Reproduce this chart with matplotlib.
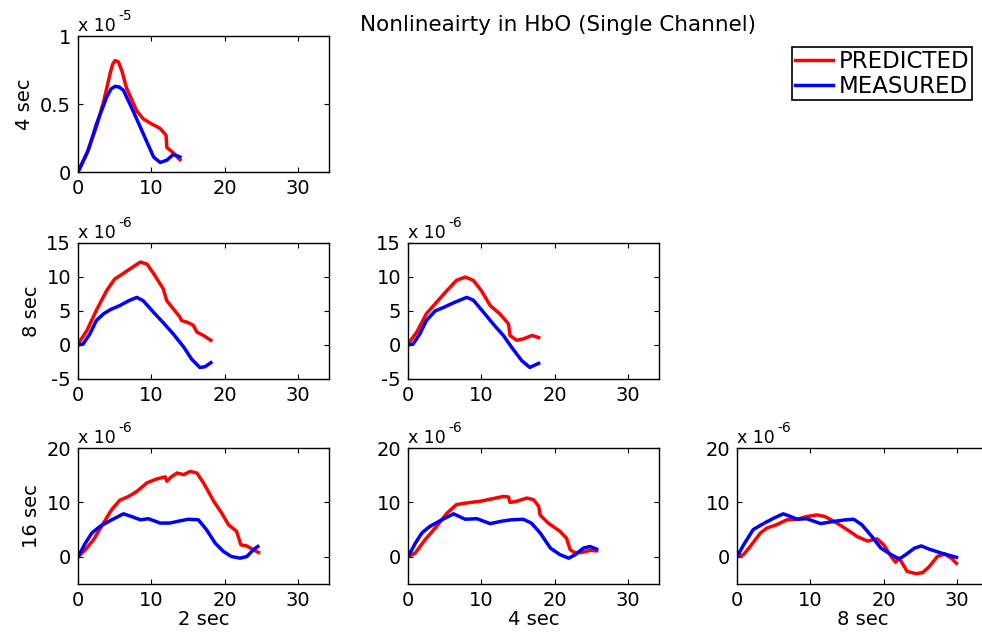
import numpy as np
import matplotlib
matplotlib.use('Agg')
import matplotlib.pyplot as plt

plt.rcParams['font.family'] = ['DejaVu Sans']
plt.rcParams['font.size'] = 14

# ---- HbO responses (time in s, amplitude scaled by the axis exponent) ----
# row 1: 4 sec stimulus, 2 sec reference
t_4_2_pred = [0, 1.2, 2.5, 3.5, 4.4, 4.7, 5.05, 5.5, 6.0, 6.6, 8.0, 8.9, 10.0, 11.2, 12.0, 12.1, 12.8, 13.9]
y_4_2_pred = [0, 0.136, 0.33, 0.52, 0.73, 0.79, 0.82, 0.81, 0.74, 0.62, 0.45, 0.39, 0.355, 0.32, 0.27, 0.18, 0.15, 0.09]
t_4_2_meas = [0, 1.4, 2.5, 3.9, 4.5, 5.05, 5.6, 6.2, 7.5, 8.9, 10.3, 11.2, 12.1, 13.0, 13.9]
y_4_2_meas = [0, 0.16, 0.35, 0.55, 0.61, 0.63, 0.625, 0.60, 0.45, 0.28, 0.11, 0.07, 0.087, 0.13, 0.11]

# row 2: 8 sec stimulus, 2 sec and 4 sec references
t_8_2_pred = [0, 1.2, 2.5, 3.9, 5.0, 6.0, 7.1, 8.5, 9.4, 10.3, 11.6, 12.1, 13.0, 13.9, 14.1, 15.0, 15.7, 16.2, 17.1, 18.1]
y_8_2_pred = [0.15, 2.1, 5.1, 8.0, 9.7, 10.4, 11.2, 12.2, 11.9, 10.5, 8.3, 6.5, 5.3, 4.1, 3.6, 3.3, 2.9, 1.9, 1.4, 0.7]
t_8_2_meas = [0, 0.7, 1.6, 2.5, 3.5, 4.4, 5.7, 6.9, 8.0, 8.9, 10.3, 11.6, 13.0, 14.4, 15.5, 16.6, 17.3, 18.1]
y_8_2_meas = [0, 0.15, 1.6, 3.6, 4.6, 5.2, 5.8, 6.5, 7.0, 6.5, 4.8, 3.3, 1.6, -0.3, -2.1, -3.3, -3.2, -2.6]

t_8_4_pred = [0, 1.2, 2.5, 3.9, 5.3, 6.6, 7.8, 8.9, 10.0, 11.2, 12.5, 13.7, 13.9, 14.8, 15.7, 16.9, 17.8]
y_8_4_pred = [0.15, 1.9, 4.6, 6.3, 8.0, 9.5, 10.0, 9.5, 8.0, 5.8, 4.6, 3.1, 1.4, 0.7, 0.9, 1.4, 1.1]
t_8_4_meas = [0, 0.7, 1.6, 2.5, 3.7, 5.0, 6.4, 8.0, 8.9, 10.3, 11.6, 13.0, 14.1, 15.5, 16.6, 17.8]
y_8_4_meas = [0, 0.15, 1.6, 3.6, 5.0, 5.6, 6.3, 7.0, 6.6, 4.8, 3.1, 1.4, -0.3, -2.3, -3.3, -2.7]

# row 3: 16 sec stimulus, 2 / 4 / 8 sec references
t_16_2_pred = [0, 1.0, 2.1, 3.2, 4.6, 5.7, 6.9, 8.0, 9.4, 10.7, 11.9, 12.1, 12.8, 13.5, 14.4, 15.3, 16.2,
               17.1, 18.5, 19.6, 20.5, 21.6, 22.2, 23.0, 23.9, 24.6]
y_16_2_pred = [0, 1.3, 3.1, 5.6, 8.7, 10.4, 11.1, 12.0, 13.6, 14.3, 14.7, 13.9, 14.8, 15.4, 15.1, 15.7, 15.4,
               13.6, 10.2, 8.0, 5.9, 4.7, 2.2, 2.0, 1.3, 0.8]
t_16_2_meas = [0, 1.0, 1.9, 3.0, 4.6, 6.2, 7.3, 8.5, 9.6, 11.2, 12.5, 13.9, 15.0, 16.4, 17.5, 18.7, 19.8,
               20.9, 22.1, 23.0, 23.9, 24.5]
y_16_2_meas = [0, 2.5, 4.4, 5.6, 6.8, 7.9, 7.4, 6.8, 7.0, 6.2, 6.2, 6.6, 6.9, 6.8, 5.0, 2.5, 1.0,
               0.05, -0.25, 0.05, 1.3, 1.9]

t_16_4_pred = [0, 1.0, 2.3, 3.9, 5.3, 6.6, 8.0, 9.8, 11.6, 13.0, 13.7, 13.9, 14.8, 16.2, 17.1, 17.8, 18.0,
               19.1, 20.7, 21.6, 22.1, 22.8, 23.7, 24.8, 25.7]
y_16_4_pred = [0, 0.7, 3.1, 5.6, 8.0, 9.6, 9.9, 10.2, 10.7, 11.1, 11.0, 10.0, 10.2, 10.8, 10.5, 9.3, 7.7,
               6.2, 4.7, 3.4, 1.3, 0.7, 0.8, 1.2, 1.1]
t_16_4_meas = [0, 1.0, 1.9, 3.0, 4.6, 6.2, 7.8, 9.4, 11.2, 13.0, 14.1, 15.7, 16.8, 18.0, 19.4, 20.7, 21.9,
               22.8, 23.9, 24.8, 25.7]
y_16_4_meas = [0, 2.5, 4.4, 5.6, 6.8, 7.9, 6.9, 7.0, 6.1, 6.6, 6.8, 6.9, 6.2, 4.4, 1.6, 0.4, -0.25,
               0.4, 1.6, 1.9, 1.4]

t_16_8_pred = [0, 0.9, 1.8, 3.2, 4.1, 5.4, 6.8, 8.2, 9.5, 10.9, 12.0, 13.6, 15.0, 16.4, 17.8, 19.1, 20.0,
               21.0, 21.6, 22.1, 23.2, 24.4, 25.3, 26.2, 27.3, 28.3, 29.2, 29.9]
y_16_8_pred = [0, 0.4, 1.9, 4.4, 5.3, 5.9, 6.8, 6.9, 7.4, 7.7, 7.4, 6.2, 5.0, 3.7, 2.9, 3.3, 2.2,
               0.06, -1.0, -0.25, -2.7, -3.1, -2.9, -1.8, 0.06, 0.5, -0.25, -1.2]
t_16_8_meas = [0, 0.9, 2.2, 3.6, 5.0, 6.3, 7.3, 8.2, 9.5, 11.4, 13.2, 14.8, 15.9, 17.0, 18.4, 19.6, 21.0,
               22.1, 23.0, 24.2, 25.1, 26.2, 27.8, 29.9]
y_16_8_meas = [0, 2.2, 5.0, 6.1, 7.1, 7.9, 7.4, 6.9, 7.0, 6.1, 6.5, 6.8, 6.9, 5.9, 3.7, 1.6, 0.4,
               -0.4, 0.4, 1.6, 2.0, 1.4, 0.7, -0.1]

row_labels = ['4 sec', '8 sec', '16 sec']
col_labels = ['2 sec', '4 sec', '8 sec']
exponents = ['-5', '-6', '-6']
ylims = [(0, 1), (-5, 15), (-5, 20)]
yticks = [[0, 0.5, 1], [-5, 0, 5, 10, 15], [0, 10, 20]]
yticklabels = [['0', '0.5', '1'], ['-5', '0', '5', '10', '15'], ['0', '10', '20']]
xticks = [0, 10, 20, 30]

panels = {
    (0, 0): (t_4_2_pred, y_4_2_pred, t_4_2_meas, y_4_2_meas),
    (1, 0): (t_8_2_pred, y_8_2_pred, t_8_2_meas, y_8_2_meas),
    (1, 1): (t_8_4_pred, y_8_4_pred, t_8_4_meas, y_8_4_meas),
    (2, 0): (t_16_2_pred, y_16_2_pred, t_16_2_meas, y_16_2_meas),
    (2, 1): (t_16_4_pred, y_16_4_pred, t_16_4_meas, y_16_4_meas),
    (2, 2): (t_16_8_pred, y_16_8_pred, t_16_8_meas, y_16_8_meas),
}

W, H = 982, 635
fig = plt.figure(figsize=(W / 100, H / 100), dpi=100)

col_x = [78, 408, 737]
row_top = [36, 243, 448]
ax_w, ax_h = 251, 136

first_ax = None
for (r, c), (tp, yp, tm, ym) in panels.items():
    x0 = col_x[c] / W
    y0 = 1 - (row_top[r] + ax_h) / H
    ax = fig.add_axes([x0, y0, ax_w / W, ax_h / H])
    ax.plot(tp, yp, color='red', lw=2.5, label='PREDICTED')
    ax.plot(tm, ym, color='blue', lw=2.5, label='MEASURED')
    ax.set_xlim(0, 34.2)
    ax.set_ylim(*ylims[r])
    ax.set_xticks(xticks)
    ax.set_yticks(yticks[r])
    ax.set_yticklabels(yticklabels[r])
    ax.tick_params(direction='in', length=3.5, width=0.8, top=True, right=True, pad=5)
    for s in ax.spines.values():
        s.set_linewidth(1.0)
    # matlab style exponent above the y axis
    ax.annotate('x 10', xy=(0, 1), xycoords='axes fraction', xytext=(0, 3.5),
                textcoords='offset points', ha='left', va='baseline', fontsize=12.5)
    ax.annotate(exponents[r], xy=(0, 1), xycoords='axes fraction', xytext=(29, 11.5),
                textcoords='offset points', ha='left', va='baseline', fontsize=10)
    if c == 0:
        ax.set_ylabel(row_labels[r], labelpad=4)
    if r == 2:
        ax.set_xlabel(col_labels[c], labelpad=0)
    if first_ax is None:
        first_ax = ax

fig.text(558 / W, 1 - 25 / H, 'Nonlineairty in HbO (Single Channel)', ha='center', va='center',
         fontsize=15.5)

handles, labels = first_ax.get_legend_handles_labels()
leg = fig.legend(handles, labels, loc='upper left', bbox_to_anchor=(792 / W, 1 - 47 / H),
                 frameon=True, fancybox=False, edgecolor='black', framealpha=1, fontsize=16.5,
                 handlelength=1.65, handletextpad=0.25, borderpad=0.12, labelspacing=0.08,
                 borderaxespad=0)
leg.get_frame().set_linewidth(1.2)

fig.savefig('out.png', dpi=100)
